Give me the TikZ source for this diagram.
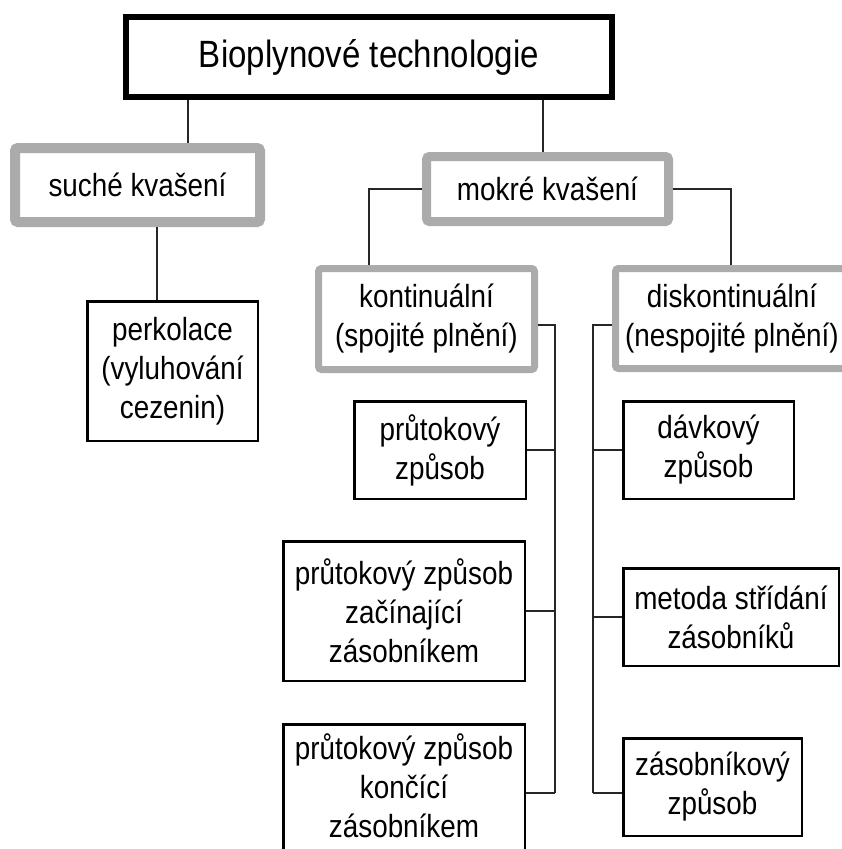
\documentclass[tikz,border=0pt]{standalone}
\usepackage{fontspec}
\setmainfont{Liberation Sans}[FakeStretch=0.87]
\begin{document}
\begin{tikzpicture}[x=1pt,y=-1pt,
  every node/.style={align=center,inner sep=0pt,font=\fontsize{32}{39}\selectfont},
  topbox/.style={draw=black,line width=6pt,fill=white},
  graybox/.style={draw=black!33,line width=9pt,fill=white,rounded corners=3pt},
  thinbox/.style={draw=black,line width=2.5pt,fill=white},
  conn/.style={draw=black!85,line width=2pt}]
\fill[white] (0,0) rectangle (841,849);
\useasboundingbox (0,0) rectangle (841,849);
% helper coordinates
\coordinate (c188) at (188,0);
\coordinate (c543) at (543,0);
\coordinate (c157) at (157,0);
\coordinate (c369) at (369,0);
\coordinate (c731) at (731,0);
\coordinate (c325) at (0,325);
\coordinate (lbus) at (555,793);
\coordinate (rbus) at (593,793);
% nodes
\node[topbox,minimum width=486,minimum height=80,font=\fontsize{38}{44}\selectfont] (top) at (369,57) {Bioplynové technologie};
\node[graybox,line width=10pt,minimum width=245,minimum height=74] (suche) at (137.5,185) {suché kvašení};
\node[graybox,minimum width=242,minimum height=65] (mokre) at (547.5,189) {mokré kvašení};
\node[graybox,line width=7pt,minimum width=216,minimum height=101] (kont) at (426.5,319) {kontinuální\\(spojité plnění)};
\node[graybox,line width=7pt,minimum width=260,minimum height=100] (disk) at (745.5,318.5) {};
\node (disktext) at (732,318.5) {diskontinuální\\(nespojité plnění)};
\node[thinbox,minimum width=170.5,minimum height=139.5] (perk) at (172.5,371) {perkolace\\(vyluhování\\cezenin)};
\node[thinbox,minimum width=171.5,minimum height=97.5] (prut) at (440,450) {průtokový\\způsob};
\node[thinbox,minimum width=241.5,minimum height=139.5] (zac) at (404,611) {průtokový způsob\\začínající\\zásobníkem};
\node[thinbox,minimum width=241.5,minimum height=127.5] (konc) at (404,788) {};
\node (konctext) at (404,786) {průtokový způsob\\končící\\zásobníkem};
\node[thinbox,minimum width=170.5,minimum height=97.5] (davk) at (708.5,450) {dávkový\\způsob};
\node[thinbox,minimum width=215.5,minimum height=97.5] (metoda) at (731,617) {metoda střídání\\zásobníků};
\node[thinbox,minimum width=178.5,minimum height=97.5] (zasob) at (712.5,787) {zásobníkový\\způsob};
% connectors
\draw[conn] (top.south -| c188) -- (suche.north -| c188);
\draw[conn] (top.south -| c543) -- (mokre.north -| c543);
\draw[conn] (suche.south -| c157) -- (perk.north -| c157);
\draw[conn] (mokre.west) -| (kont.north -| c369);
\draw[conn] (mokre.east) -| (disk.north -| c731);
\draw[conn] (kont.east |- c325) -| (lbus);
\draw[conn] (prut.east) -- (prut.east -| lbus);
\draw[conn] (zac.east) -- (zac.east -| lbus);
\draw[conn] (konc.east |- lbus) -- (lbus);
\draw[conn] (disk.west |- c325) -| (rbus);
\draw[conn] (davk.west) -- (davk.west -| rbus);
\draw[conn] (metoda.west) -- (metoda.west -| rbus);
\draw[conn] (zasob.west |- rbus) -- (rbus);
\end{tikzpicture}
\end{document}
